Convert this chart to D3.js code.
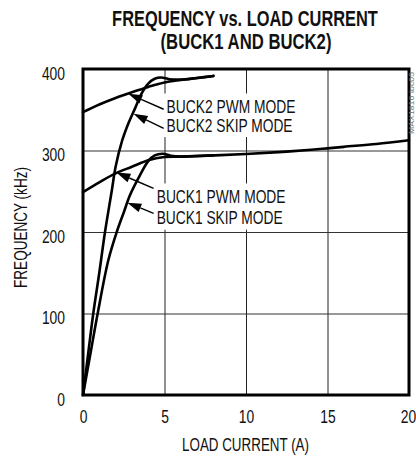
<!DOCTYPE html>
<html>
<head>
<meta charset="utf-8">
<script src="https://cdn.jsdelivr.net/npm/d3@7"></script>
<style>
  html, body { margin: 0; padding: 0; background: #fff; }
  svg { display: block; }
  text { font-family: "Liberation Sans", Arial, sans-serif; fill: #111; }
</style>
</head>
<body>
<svg id="chart" width="416" height="456"></svg>
<script>
// ---------- data ----------
const titleLines = ["FREQUENCY vs. LOAD CURRENT", "(BUCK1 AND BUCK2)"];
const xAxisTitle = "LOAD CURRENT (A)";
const yAxisTitle = "FREQUENCY (kHz)";
const noteText = "MAX1816 toc05";

const xTicks = [0, 5, 10, 15, 20];
const yTicks = [0, 100, 200, 300, 400];

// BUCK2 PWM MODE
const buck2PwmCurrent = [0, 1, 2, 3, 4, 5, 6, 7, 8];
const buck2PwmFreq    = [347, 356.5, 364.5, 371.5, 378, 383.5, 386.5, 389, 391.5];
// BUCK2 SKIP MODE
const buck2SkipCurrent = [0, 0.3, 0.63, 1.0, 1.35, 1.76, 2.0, 2.4, 2.8, 3.2, 3.6, 4.0, 4.4, 4.8, 5.3, 6.0, 7, 8];
const buck2SkipFreq    = [0, 48, 100, 150, 200, 250, 280, 312, 334, 352, 370, 382, 388, 389.5, 387.5, 387, 389, 391.5];
// BUCK1 PWM MODE
const buck1PwmCurrent = [0, 1, 2, 3, 4, 5, 6, 8, 10, 12, 14, 15, 16, 18, 20];
const buck1PwmFreq    = [249, 261, 272, 280, 288, 292, 292.5, 294, 295.7, 298, 301, 302.6, 304.5, 308, 312.5];
// BUCK1 SKIP MODE
const buck1SkipCurrent = [0, 0.45, 0.9, 1.55, 2.07, 2.5, 2.88, 3.4, 4.0, 4.4, 4.9, 5.4, 6.0, 7, 8];
const buck1SkipFreq    = [0, 50, 100, 165, 200, 224, 245, 266, 287, 294, 296, 293.5, 292.5, 293.2, 294];

// annotations (data coordinates)
const labelTexts   = ["BUCK2 PWM MODE", "BUCK2 SKIP MODE", "BUCK1 PWM MODE", "BUCK1 SKIP MODE"];
const labelX       = [5.13, 5.13, 4.52, 4.52];
const labelY       = [345.6, 323.1, 235.2, 209.4];
const arrowTipX    = [2.78, 3.1, 2.05, 2.72];
const arrowTipY    = [369.5, 345, 273, 236];
const arrowTailX   = [4.95, 4.95, 4.33, 4.33];
const arrowTailY   = [350.6, 327, 253.6, 222.9];

// ---------- layout ----------
const plot = { left: 83, right: 409, top: 69, bottom: 395 };
const svg = d3.select("#chart");
const x = d3.scaleLinear().domain([0, 20]).range([plot.left, plot.right]);
const y = d3.scaleLinear().domain([0, 400]).range([plot.bottom, plot.top]);
const SX = 0.77; // horizontal condensing of the body font

// helper: draw text at (tx,ty) condensed to a target width
function condensedText(parent, str, tx, ty, size, target, anchor, bold, rot) {
  const t = parent.append("text")
    .attr("font-size", size)
    .attr("text-anchor", anchor)
    .attr("font-weight", bold ? "bold" : "normal")
    .text(str);
  const w = t.node().getComputedTextLength();
  const s = target / w;
  t.attr("transform", `translate(${tx},${ty})${rot ? ` rotate(${rot})` : ""} scale(${s},1)`);
  return t;
}

// title
condensedText(svg, titleLines[0], 245, 26, 22, 266, "middle", true);
condensedText(svg, titleLines[1], 246, 49, 22, 171, "middle", true);

// gridlines via axes
const gx = svg.append("g")
  .attr("transform", `translate(0,${plot.bottom})`)
  .call(d3.axisBottom(x).tickValues(xTicks).tickSize(-(plot.bottom - plot.top)).tickFormat(""));
gx.select(".domain").remove();
gx.selectAll("line").attr("stroke", "#222").attr("stroke-width", 1);

const gy = svg.append("g")
  .attr("transform", `translate(${plot.left},0)`)
  .call(d3.axisLeft(y).tickValues(yTicks).tickSize(-(plot.right - plot.left)).tickFormat(""));
gy.select(".domain").remove();
gy.selectAll("line").attr("stroke", "#333").attr("stroke-width", 1);

// tick labels
const xl = svg.append("g")
  .attr("transform", `translate(0,${plot.bottom})`)
  .call(d3.axisBottom(x).tickValues(xTicks).tickSize(0).tickPadding(0).tickFormat(d3.format("d")));
xl.select(".domain").remove();
xl.selectAll("text")
  .attr("dy", null).attr("y", null)
  .attr("transform", `translate(0,28) scale(${SX},1)`)
  .attr("font-size", 18).attr("fill", "#111")
  .style("font-family", '"Liberation Sans", Arial, sans-serif');
// keep the last tick label inside the picture
xl.selectAll(".tick").filter(d => d === xTicks[xTicks.length - 1]).select("text")
  .attr("transform", `translate(-1,28) scale(${SX},1)`);

const yl = svg.append("g")
  .attr("transform", `translate(65,0)`)
  .call(d3.axisLeft(y).tickValues(yTicks).tickSize(0).tickPadding(0).tickFormat(d3.format("d")));
yl.select(".domain").remove();
yl.selectAll("text")
  .attr("dy", null).attr("x", null).attr("y", null)
  .attr("transform", `translate(0,10) scale(${SX},1)`)
  .attr("text-anchor", "end")
  .attr("font-size", 18).attr("fill", "#111")
  .style("font-family", '"Liberation Sans", Arial, sans-serif');

// axis titles
condensedText(svg, xAxisTitle, 245.5, 451, 18, 127, "middle", false);
condensedText(svg, yAxisTitle, 27, 227.5, 18, 121, "middle", false, -90);

// label groups with white backgrounds
const labelGroups = [[0, 1], [2, 3]];
labelGroups.forEach(group => {
  const g = svg.append("g");
  const bg = g.append("rect").attr("fill", "#fff");
  group.forEach(i => {
    condensedText(g, labelTexts[i], x(labelX[i]), y(labelY[i]), 18,
      labelTexts[i].includes("PWM") ? 129 : 126, "start", false);
  });
  const bb = g.node().getBBox();
  bg.attr("x", bb.x - 4).attr("y", bb.y - 3)
    .attr("width", bb.width + 6).attr("height", bb.height + 5);
});

// curves
const line = d3.line()
  .x(d => x(d[0])).y(d => y(d[1]))
  .curve(d3.curveCatmullRom.alpha(0.5));
const series = [
  [buck2PwmCurrent, buck2PwmFreq],
  [buck2SkipCurrent, buck2SkipFreq],
  [buck1PwmCurrent, buck1PwmFreq],
  [buck1SkipCurrent, buck1SkipFreq]
];
svg.append("g").selectAll("path")
  .data(series.map(([xs, ys]) => xs.map((v, k) => [v, ys[k]])))
  .join("path")
  .attr("d", line)
  .attr("fill", "none")
  .attr("stroke", "#000")
  .attr("stroke-width", 2.6)
  .attr("stroke-linejoin", "round")
  .attr("stroke-linecap", "round");

// arrows
const arrows = svg.append("g");
labelTexts.forEach((t, i) => {
  const x1 = x(arrowTailX[i]), y1 = y(arrowTailY[i]);
  const x2 = x(arrowTipX[i]), y2 = y(arrowTipY[i]);
  const ang = Math.atan2(y2 - y1, x2 - x1);
  const L = 14, Wd = 4.5;
  const bx = x2 - L * Math.cos(ang), by = y2 - L * Math.sin(ang);
  arrows.append("line")
    .attr("x1", x1).attr("y1", y1).attr("x2", bx).attr("y2", by)
    .attr("stroke", "#000").attr("stroke-width", 1.4);
  const px = -Math.sin(ang) * Wd, py = Math.cos(ang) * Wd;
  arrows.append("path")
    .attr("d", `M${x2},${y2}L${bx + px},${by + py}L${bx - px},${by - py}Z`)
    .attr("fill", "#000");
});

// frame
svg.append("rect")
  .attr("x", plot.left).attr("y", plot.top)
  .attr("width", plot.right - plot.left).attr("height", plot.bottom - plot.top)
  .attr("fill", "none").attr("stroke", "#000").attr("stroke-width", 3);

// side note
const note = condensedText(svg, noteText, 0, 0, 8, 62, "middle", false);
note.attr("transform", `translate(414,103) rotate(-90) scale(${62 / note.node().getComputedTextLength()},1)`)
  .style("fill", "#777");
</script>
</body>
</html>
